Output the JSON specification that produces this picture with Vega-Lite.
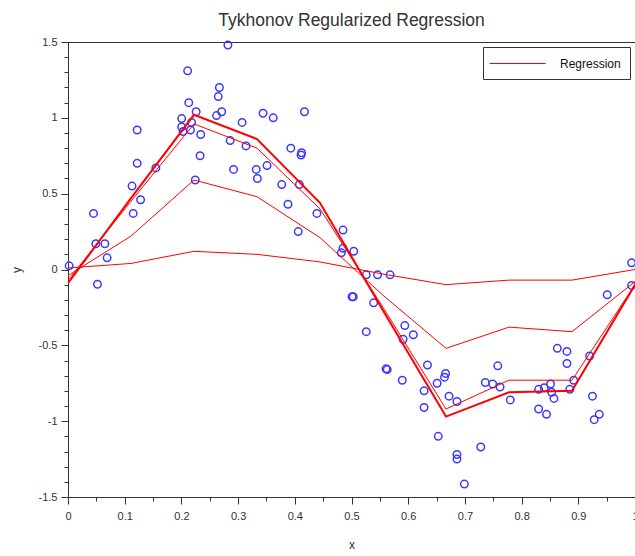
{
  "$schema": "https://vega.github.io/schema/vega-lite/v6.json",
  "width": 567,
  "height": 455,
  "autosize": {"type": "none"},
  "padding": {"left": 68, "top": 42, "right": 0, "bottom": 59},
  "background": "white",
  "title": {"text": "Tykhonov Regularized Regression", "font": "Liberation Sans", "fontSize": 17.5, "fontWeight": "normal", "color": "#333333", "offset": 7, "anchor": "middle"},
  "config": {"view": {"stroke": "#333333", "strokeWidth": 1}},
  "datasets": {
    "points": [
      {"x": 0.002, "y": 0.024}, {"x": 0.045, "y": 0.37}, {"x": 0.049, "y": 0.17}, {"x": 0.052, "y": -0.097}, {"x": 0.065, "y": 0.17},
      {"x": 0.069, "y": 0.077}, {"x": 0.113, "y": 0.55}, {"x": 0.115, "y": 0.37}, {"x": 0.122, "y": 0.70}, {"x": 0.122, "y": 0.92},
      {"x": 0.128, "y": 0.46}, {"x": 0.155, "y": 0.67}, {"x": 0.2005, "y": 0.995}, {"x": 0.2005, "y": 0.94}, {"x": 0.203, "y": 0.91},
      {"x": 0.211, "y": 1.31}, {"x": 0.213, "y": 1.10}, {"x": 0.216, "y": 0.92}, {"x": 0.218, "y": 0.97}, {"x": 0.2245, "y": 0.59},
      {"x": 0.226, "y": 1.04}, {"x": 0.233, "y": 0.75}, {"x": 0.234, "y": 0.89}, {"x": 0.262, "y": 1.015}, {"x": 0.265, "y": 1.14},
      {"x": 0.267, "y": 1.20}, {"x": 0.271, "y": 1.04}, {"x": 0.282, "y": 1.48}, {"x": 0.286, "y": 0.85}, {"x": 0.292, "y": 0.66},
      {"x": 0.307, "y": 0.97}, {"x": 0.314, "y": 0.815}, {"x": 0.332, "y": 0.66}, {"x": 0.334, "y": 0.60}, {"x": 0.344, "y": 1.03},
      {"x": 0.351, "y": 0.685}, {"x": 0.362, "y": 1.0}, {"x": 0.377, "y": 0.56}, {"x": 0.388, "y": 0.43}, {"x": 0.393, "y": 0.80},
      {"x": 0.406, "y": 0.25}, {"x": 0.408, "y": 0.56}, {"x": 0.411, "y": 0.755}, {"x": 0.412, "y": 0.77}, {"x": 0.417, "y": 1.04},
      {"x": 0.439, "y": 0.37}, {"x": 0.482, "y": 0.11}, {"x": 0.485, "y": 0.26}, {"x": 0.485, "y": 0.14}, {"x": 0.501, "y": -0.18},
      {"x": 0.503, "y": -0.18}, {"x": 0.504, "y": 0.12}, {"x": 0.526, "y": -0.035}, {"x": 0.526, "y": -0.41}, {"x": 0.539, "y": -0.22},
      {"x": 0.546, "y": -0.035}, {"x": 0.561, "y": -0.655}, {"x": 0.563, "y": -0.66}, {"x": 0.568, "y": -0.035}, {"x": 0.5895, "y": -0.73},
      {"x": 0.591, "y": -0.46}, {"x": 0.594, "y": -0.37}, {"x": 0.609, "y": -0.43}, {"x": 0.628, "y": -0.80}, {"x": 0.628, "y": -0.91},
      {"x": 0.634, "y": -0.63}, {"x": 0.651, "y": -0.75}, {"x": 0.653, "y": -1.10}, {"x": 0.664, "y": -0.71}, {"x": 0.666, "y": -0.685},
      {"x": 0.672, "y": -0.835}, {"x": 0.686, "y": -0.87}, {"x": 0.686, "y": -1.22}, {"x": 0.686, "y": -1.25}, {"x": 0.699, "y": -1.415},
      {"x": 0.728, "y": -1.17}, {"x": 0.736, "y": -0.745}, {"x": 0.749, "y": -0.755}, {"x": 0.758, "y": -0.635}, {"x": 0.762, "y": -0.775},
      {"x": 0.780, "y": -0.86}, {"x": 0.830, "y": -0.79}, {"x": 0.830, "y": -0.92}, {"x": 0.840, "y": -0.78}, {"x": 0.844, "y": -0.955},
      {"x": 0.851, "y": -0.755}, {"x": 0.853, "y": -0.81}, {"x": 0.857, "y": -0.85}, {"x": 0.863, "y": -0.52}, {"x": 0.880, "y": -0.54},
      {"x": 0.880, "y": -0.62}, {"x": 0.885, "y": -0.79}, {"x": 0.892, "y": -0.73}, {"x": 0.920, "y": -0.57}, {"x": 0.925, "y": -0.835},
      {"x": 0.928, "y": -0.99}, {"x": 0.937, "y": -0.955}, {"x": 0.951, "y": -0.167}, {"x": 0.994, "y": 0.044}, {"x": 0.994, "y": -0.105}
    ],
    "curves": [
      {"curve": "A", "x": 0, "y": -0.09}, {"curve": "A", "x": 0.1111, "y": 0.47}, {"curve": "A", "x": 0.2222, "y": 1.02}, {"curve": "A", "x": 0.3333, "y": 0.86}, {"curve": "A", "x": 0.4444, "y": 0.44},
      {"curve": "A", "x": 0.5556, "y": -0.27}, {"curve": "A", "x": 0.6667, "y": -0.97}, {"curve": "A", "x": 0.7778, "y": -0.81}, {"curve": "A", "x": 0.8889, "y": -0.80}, {"curve": "A", "x": 1, "y": -0.10},
      {"curve": "B", "x": 0, "y": -0.07}, {"curve": "B", "x": 0.1111, "y": 0.45}, {"curve": "B", "x": 0.2222, "y": 0.96}, {"curve": "B", "x": 0.3333, "y": 0.80}, {"curve": "B", "x": 0.4444, "y": 0.40},
      {"curve": "B", "x": 0.5556, "y": -0.25}, {"curve": "B", "x": 0.6667, "y": -0.92}, {"curve": "B", "x": 0.7778, "y": -0.73}, {"curve": "B", "x": 0.8889, "y": -0.73}, {"curve": "B", "x": 1, "y": -0.10},
      {"curve": "C", "x": 0, "y": -0.04}, {"curve": "C", "x": 0.1111, "y": 0.22}, {"curve": "C", "x": 0.2222, "y": 0.59}, {"curve": "C", "x": 0.3333, "y": 0.48}, {"curve": "C", "x": 0.4444, "y": 0.21},
      {"curve": "C", "x": 0.5556, "y": -0.17}, {"curve": "C", "x": 0.6667, "y": -0.52}, {"curve": "C", "x": 0.7778, "y": -0.38}, {"curve": "C", "x": 0.8889, "y": -0.41}, {"curve": "C", "x": 1, "y": -0.08},
      {"curve": "D", "x": 0, "y": 0.01}, {"curve": "D", "x": 0.1111, "y": 0.04}, {"curve": "D", "x": 0.2222, "y": 0.12}, {"curve": "D", "x": 0.3333, "y": 0.10}, {"curve": "D", "x": 0.4444, "y": 0.05},
      {"curve": "D", "x": 0.5556, "y": -0.03}, {"curve": "D", "x": 0.6667, "y": -0.10}, {"curve": "D", "x": 0.7778, "y": -0.07}, {"curve": "D", "x": 0.8889, "y": -0.07}, {"curve": "D", "x": 1, "y": 0.0}
    ]
  },
  "encoding": {
    "x": {
      "field": "x", "type": "quantitative",
      "scale": {"domain": [0, 1], "nice": false, "zero": false},
      "axis": {
        "values": [0, 0.05, 0.1, 0.15, 0.2, 0.25, 0.3, 0.35, 0.4, 0.45, 0.5, 0.55, 0.6, 0.65, 0.7, 0.75, 0.8, 0.85, 0.9, 0.95, 1],
        "labelExpr": "abs(datum.value*10-round(datum.value*10))<1e-6 ? ''+datum.value : ''",
        "tickSize": {"condition": {"test": "abs(datum.value*10-round(datum.value*10))<1e-6", "value": 7}, "value": 4},
        "grid": false, "domainColor": "#333333", "tickColor": "#333333",
        "labelFont": "Liberation Sans", "labelFontSize": 11, "labelColor": "#333333", "labelPadding": 6,
        "labelFlush": false, "labelOverlap": false,
        "title": "x", "titleFont": "Liberation Sans", "titleFontSize": 12, "titleFontWeight": "normal", "titleColor": "#333333", "titlePadding": 18
      }
    },
    "y": {
      "field": "y", "type": "quantitative",
      "scale": {"domain": [-1.5, 1.5], "nice": false, "zero": false},
      "axis": {
        "values": [-1.5, -1.4, -1.3, -1.2, -1.1, -1, -0.9, -0.8, -0.7, -0.6, -0.5, -0.4, -0.3, -0.2, -0.1, 0, 0.1, 0.2, 0.3, 0.4, 0.5, 0.6, 0.7, 0.8, 0.9, 1, 1.1, 1.2, 1.3, 1.4, 1.5],
        "labelExpr": "abs(datum.value*2-round(datum.value*2))<1e-6 ? ''+datum.value : ''",
        "tickSize": {"condition": {"test": "abs(datum.value*2-round(datum.value*2))<1e-6", "value": 7}, "value": 4},
        "grid": false, "domainColor": "#333333", "tickColor": "#333333",
        "labelFont": "Liberation Sans", "labelFontSize": 11, "labelColor": "#333333", "labelPadding": 4,
        "labelFlush": false, "labelOverlap": false,
        "title": "y", "titleFont": "Liberation Sans", "titleFontSize": 12, "titleFontWeight": "normal", "titleColor": "#333333", "titlePadding": 15
      }
    }
  },
  "layer": [
    {
      "data": {"name": "points"},
      "mark": {"type": "point", "shape": "circle", "filled": false, "color": "#3a3aff", "strokeWidth": 1.5, "size": 56, "opacity": 1}
    },
    {
      "data": {"name": "curves"},
      "mark": {"type": "line", "clip": true},
      "encoding": {
        "detail": {"field": "curve", "type": "nominal"},
        "color": {
          "datum": "Regression", "type": "nominal",
          "scale": {"range": ["#ff0000"]},
          "legend": {
            "title": null, "orient": "top-right", "offset": 5, "padding": 9,
            "strokeColor": "#333333", "fillColor": "white",
            "symbolType": "M-1.4,0H6.6", "symbolSize": 196, "symbolStrokeWidth": 1,
            "labelFont": "Liberation Sans", "labelFontSize": 12, "labelColor": "#111111", "labelOffset": 53
          }
        },
        "strokeWidth": {"condition": {"test": "datum.curve === 'A'", "value": 2}, "value": 1}
      }
    }
  ]
}
